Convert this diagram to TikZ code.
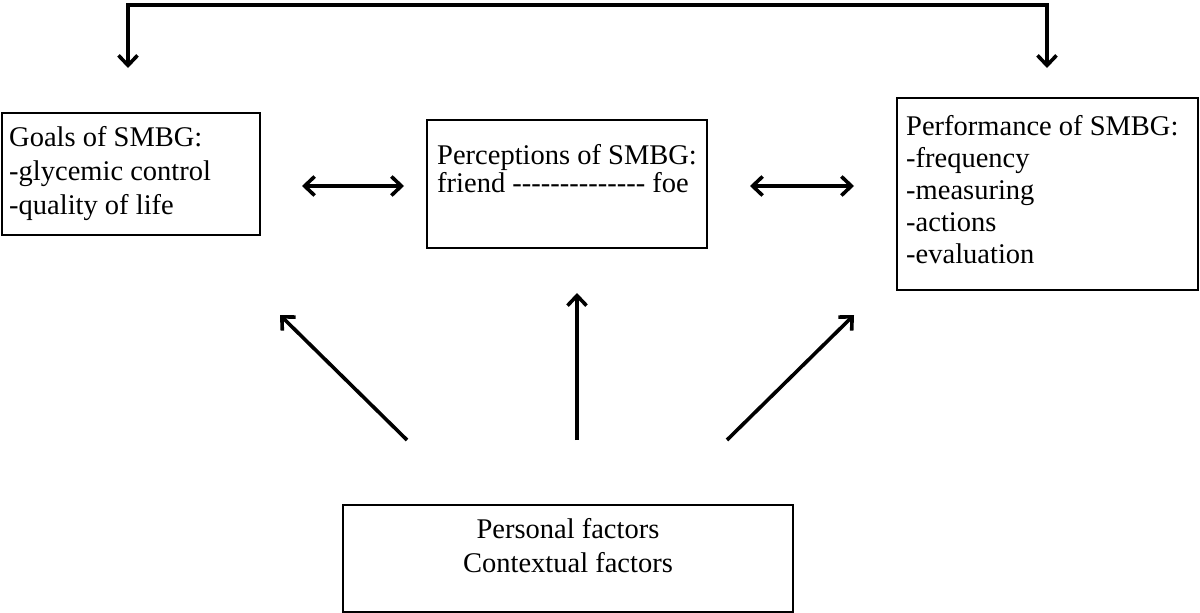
\documentclass[tikz,border=0pt]{standalone}
\usepackage{fontspec}
\setmainfont{Liberation Serif}[Ligatures=TeXOff]
\usetikzlibrary{arrows.meta}
\begin{document}
\begin{tikzpicture}[x=1pt,y=-1pt,
  box/.style={draw, line width=1.8pt, inner sep=0pt, rectangle},
  txt/.style={anchor=north west, align=left, inner sep=0pt},
  conn/.style={line width=3.6pt, line cap=butt},
  tip/.tip={Straight Barb[length=10pt,width=19pt,line width=3.6pt]}
]
\useasboundingbox (0,0) rectangle (1200,613);
% boxes
\node[box, minimum width=258pt, minimum height=122pt] (goals) at (131,174) {};
\node[box, minimum width=280pt, minimum height=128pt] (perc) at (567,184) {};
\node[box, minimum width=301pt, minimum height=192pt] (perf) at (1047.5,194) {};
\node[box, minimum width=450pt, minimum height=107pt] (fact) at (568,558.5) {};
% texts
\node[txt, font=\fontsize{28.5}{34}\selectfont] (goalst) at (9,126) {Goals of SMBG:\\-glycemic control\\-quality of life};
\node[txt, font=\fontsize{28.5}{28}\selectfont] (perct) at (437,144) {Perceptions of SMBG:\\friend -------------- foe};
\node[txt, font=\fontsize{28.5}{32}\selectfont] (perft) at (906,115) {Performance of SMBG:\\-frequency\\-measuring\\-actions\\-evaluation};
\node[anchor=north, align=center, inner sep=0pt, font=\fontsize{28.5}{34}\selectfont] (factt) at (568,518) {Personal factors\\Contextual factors};
% connector end points
\coordinate (tl) at (128,68);
\coordinate (tr) at (1047,68);
\coordinate (ga) at (302,186);
\coordinate (pa) at (404,186);
\coordinate (pb) at (750,186);
\coordinate (fa) at (854,186);
\coordinate (s1) at (407,440);
\coordinate (e1) at (280,315);
\coordinate (s2) at (577,440);
\coordinate (e2) at (577,293);
\coordinate (s3) at (727,440);
\coordinate (e3) at (854,315);
% connectors
\draw[conn, line width=4pt, {tip}-{tip}] (tl) |- (128,5) -| (tr);
\draw[conn, {tip}-{tip}] (ga) -- (pa);
\draw[conn, {tip}-{tip}] (pb) -- (fa);
\draw[conn, -{tip}] (s1) -- (e1);
\draw[conn, -{tip}] (s2) -- (e2);
\draw[conn, -{tip}] (s3) -- (e3);
\end{tikzpicture}
\end{document}
